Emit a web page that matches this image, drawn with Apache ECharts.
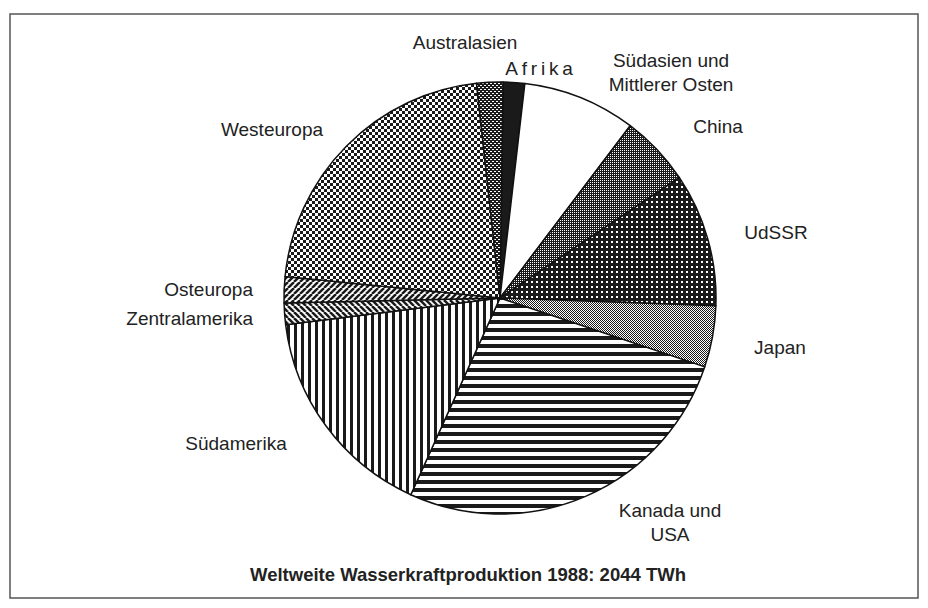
<!DOCTYPE html>
<html>
<head>
<meta charset="utf-8">
<title>Weltweite Wasserkraftproduktion 1988</title>
<script src="https://cdn.jsdelivr.net/npm/echarts@6/dist/echarts.min.js"></script>
<style>
  html, body { margin: 0; padding: 0; background: #fff; }
  #main { width: 928px; height: 608px; }
</style>
</head>
<body>
<div id="main"></div>
<script>
var regions = ['Afrika', 'Südasien und\nMittlerer Osten', 'China', 'UdSSR', 'Japan',
  'Kanada und\nUSA', 'Südamerika', 'Zentralamerika', 'Osteuropa', 'Westeuropa', 'Australasien'];
var twh = [33, 173, 108, 204, 94, 544, 332, 33, 40, 443, 40];
var titleText = 'Weltweite Wasserkraftproduktion 1988: 2044 TWh';

// Beschriftungspositionen (Textmitte)
var labelPos = {
  'Afrika': [539, 68, 'center'],
  'Südasien und\nMittlerer Osten': [671, 72, 'center'],
  'China': [718, 126, 'center'],
  'UdSSR': [776, 232, 'center'],
  'Japan': [780, 347, 'center'],
  'Kanada und\nUSA': [670, 522, 'center'],
  'Südamerika': [236, 443, 'center'],
  'Zentralamerika': [253, 318, 'right'],
  'Osteuropa': [253, 289, 'right'],
  'Westeuropa': [272, 129, 'center'],
  'Australasien': [465, 42, 'center']
};

var INK = '#1a1a1a';

function pattern(w, h, draw) {
  var c = document.createElement('canvas');
  c.width = w; c.height = h;
  var ctx = c.getContext('2d');
  ctx.fillStyle = '#fff';
  ctx.fillRect(0, 0, w, h);
  ctx.fillStyle = INK;
  ctx.strokeStyle = INK;
  draw(ctx, w, h);
  return { image: c.toDataURL(), repeat: 'repeat' };
}

var fills = {
  'Afrika': INK,
  'Südasien und\nMittlerer Osten': '#ffffff',
  'China': pattern(2, 2, function (ctx) {
    ctx.fillRect(0, 0, 2, 2);
    ctx.fillStyle = '#fff'; ctx.fillRect(0, 0, 1, 1);
  }),
  'UdSSR': pattern(5, 5, function (ctx) {
    ctx.fillRect(0, 0, 5, 5);
    ctx.fillStyle = '#fff'; ctx.fillRect(1, 1, 2, 2);
  }),
  'Japan': pattern(2, 2, function (ctx) {
    ctx.fillRect(0, 0, 1, 1); ctx.fillRect(1, 1, 1, 1);
  }),
  'Kanada und\nUSA': pattern(8, 8, function (ctx) {
    ctx.fillRect(0, 0, 8, 4);
  }),
  'Südamerika': pattern(7, 7, function (ctx) {
    ctx.fillRect(0, 0, 3, 7);
  }),
  'Zentralamerika': pattern(6, 6, function (ctx) {
    ctx.lineWidth = 2.5;
    for (var k = -6; k <= 12; k += 6) {
      ctx.beginPath(); ctx.moveTo(k, 0); ctx.lineTo(k + 6, 6); ctx.stroke();
    }
  }),
  'Osteuropa': pattern(6, 6, function (ctx) {
    ctx.lineWidth = 2.5;
    for (var k = -6; k <= 12; k += 6) {
      ctx.beginPath(); ctx.moveTo(k, 6); ctx.lineTo(k + 6, 0); ctx.stroke();
    }
  }),
  'Westeuropa': pattern(6, 6, function (ctx) {
    ctx.fillRect(0, 0, 6, 6);
    ctx.fillStyle = '#fff';
    ctx.fillRect(0, 0, 3, 3); ctx.fillRect(3, 3, 3, 3);
  }),
  'Australasien': pattern(4, 4, function (ctx) {
    ctx.fillRect(0, 0, 4, 4);
    ctx.fillStyle = '#fff';
    ctx.fillRect(0, 1, 2, 1); ctx.fillRect(2, 3, 2, 1);
  })
};

var chart = echarts.init(document.getElementById('main'), null, { renderer: 'svg' });

var option = {
  backgroundColor: '#fff',
  animation: false,
  title: {
    text: titleText,
    left: 463, top: 560,
    textAlign: 'center',
    textStyle: { fontFamily: 'Liberation Sans, Arial, sans-serif', fontSize: 18.5, fontWeight: 'bold', color: '#222' }
  },
  graphic: [{
    type: 'rect',
    shape: { x: 10, y: 14, width: 908, height: 584 },
    style: { fill: 'none', stroke: '#555', lineWidth: 1.5 },
    silent: true
  }],
  series: [{
    type: 'pie',
    center: [500, 298],
    radius: 216,
    startAngle: 89.2,
    clockwise: true,
    avoidLabelOverlap: false,
    emphasis: { disabled: true },
    itemStyle: { borderColor: '#111', borderWidth: 1.5 },
    label: {
      show: true,
      position: 'outside',
      fontFamily: 'Liberation Sans, Arial, sans-serif',
      fontSize: 19,
      lineHeight: 24,
      color: '#222',
      formatter: function (p) {
        return p.name === 'Afrika' ? p.name.split('').join('\u2009') : p.name;
      }
    },
    labelLine: { show: false },
    labelLayout: function (params) {
      var pos = labelPos[regions[params.dataIndex]];
      return { x: pos[0], y: pos[1], align: pos[2], verticalAlign: 'middle' };
    },
    data: regions.map(function (name, i) {
      return { name: name, value: twh[i], itemStyle: { color: fills[name] } };
    })
  }]
};

chart.setOption(option);
</script>
</body>
</html>
